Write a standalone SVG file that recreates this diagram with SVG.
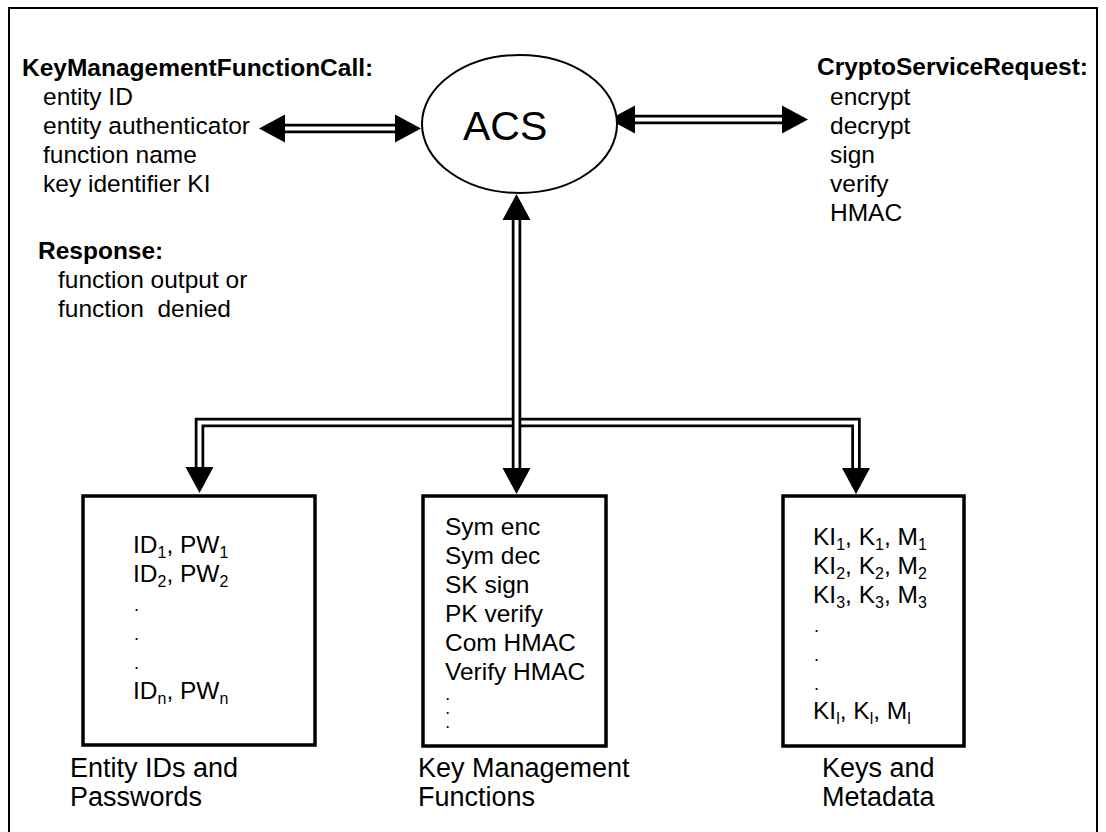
<svg xmlns="http://www.w3.org/2000/svg" width="1106" height="832" viewBox="0 0 1106 832">
  <style>
    .t { font-family: "Liberation Sans", Arial, Helvetica, sans-serif; font-size: 24.5px; fill: #000; }
    .b { font-weight: bold; }
    .lbl { font-size: 27px; }
    .sub { font-size: 16px; }
    .dot { font-size: 18px; }
    .mini { font-size: 12px; font-weight: bold; }
    .box { fill: #fff; stroke: #000; stroke-width: 3.5; }
    .rail { fill: none; stroke: #000; stroke-width: 9.5; stroke-linejoin: miter; }
    .gap { fill: none; stroke: #fff; stroke-width: 4; stroke-linejoin: miter; }
  </style>
  <defs>
    <marker id="head" markerUnits="userSpaceOnUse" viewBox="0 -15 30 30" refX="0" refY="0" markerWidth="30" markerHeight="30" orient="auto-start-reverse">
      <path d="M0,-14 L26,0 L0,14 Z" fill="#000"/>
    </marker>
  </defs>

  <!-- page frame -->
  <rect x="9" y="8" width="1088" height="840" fill="#fff" stroke="#000" stroke-width="2"/>

  <!-- double-rail connectors -->
  <g id="connectors">
    <!-- function call <-> ACS -->
    <path class="rail" d="M285,128.5 H395" marker-start="url(#head)" marker-end="url(#head)"/>
    <path class="gap" d="M285,128.5 H395"/>
    <!-- ACS <-> crypto service -->
    <path class="rail" d="M635,119.5 H782" marker-start="url(#head)" marker-end="url(#head)"/>
    <path class="gap" d="M635,119.5 H782"/>
    <!-- branch to ID store and key store -->
    <path class="rail" d="M199.5,467 V422.5 H856 V468" marker-start="url(#head)" marker-end="url(#head)"/>
    <path class="gap" d="M199.5,467 V422.5 H856 V468"/>
    <!-- ACS <-> key management functions -->
    <path class="rail" d="M516.5,220 V468" marker-start="url(#head)" marker-end="url(#head)"/>
    <path class="gap" d="M516.5,220 V468"/>
  </g>

  <g id="acs">
    <ellipse cx="519.5" cy="124" rx="97.5" ry="69" fill="#fff" stroke="#000" stroke-width="2"/>
    <text class="t" x="463" y="140" style="font-size:41px">ACS</text>
  </g>

  <g id="function-call">
    <text class="t b" x="22" y="76">KeyManagementFunctionCall:</text>
    <text class="t" x="43" y="105">entity ID</text>
    <text class="t" x="43" y="134">entity authenticator</text>
    <text class="t" x="43" y="163">function name</text>
    <text class="t" x="43" y="192">key identifier KI</text>
    <text class="t b" x="38" y="259">Response:</text>
    <text class="t" x="58" y="288">function output or</text>
    <text class="t" x="58" y="317" style="white-space:pre">function  denied</text>
  </g>

  <g id="crypto-request">
    <text class="t b" x="817" y="75">CryptoServiceRequest:</text>
    <text class="t" x="830" y="105">encrypt</text>
    <text class="t" x="830" y="134">decrypt</text>
    <text class="t" x="830" y="163">sign</text>
    <text class="t" x="830" y="192">verify</text>
    <text class="t" x="830" y="221">HMAC</text>
  </g>

  <g id="id-store">
    <rect class="box" x="83" y="496" width="232" height="249"/>
    <text class="t" x="133" y="553">ID<tspan class="sub" dy="5">1</tspan><tspan dy="-5">, PW</tspan><tspan class="sub" dy="5">1</tspan></text>
    <text class="t" x="133" y="582">ID<tspan class="sub" dy="5">2</tspan><tspan dy="-5">, PW</tspan><tspan class="sub" dy="5">2</tspan></text>
    <text class="t dot" x="134" y="611">.</text>
    <text class="t dot" x="134" y="640">.</text>
    <text class="t dot" x="134" y="669">.</text>
    <text class="t" x="133" y="699">ID<tspan class="sub" dy="5">n</tspan><tspan dy="-5">, PW</tspan><tspan class="sub" dy="5">n</tspan></text>
    <text class="t lbl" x="70" y="777">Entity IDs and</text>
    <text class="t lbl" x="70" y="806">Passwords</text>
  </g>

  <g id="functions">
    <rect class="box" x="423" y="496" width="183" height="250"/>
    <text class="t" x="445" y="535">Sym enc</text>
    <text class="t" x="445" y="564">Sym dec</text>
    <text class="t" x="445" y="593">SK sign</text>
    <text class="t" x="445" y="622">PK verify</text>
    <text class="t" x="445" y="651">Com HMAC</text>
    <text class="t" x="445" y="680">Verify HMAC</text>
    <!-- closely stacked ellipsis -->
    <text class="t mini" x="446" y="700">.</text>
    <text class="t mini" x="446" y="714">.</text>
    <text class="t mini" x="446" y="728">.</text>
    <text class="t lbl" x="418" y="777">Key Management</text>
    <text class="t lbl" x="418" y="806">Functions</text>
  </g>

  <g id="key-store">
    <rect class="box" x="783" y="496" width="181" height="250"/>
    <text class="t" x="813" y="545">KI<tspan class="sub" dy="5">1</tspan><tspan dy="-5">, K</tspan><tspan class="sub" dy="5">1</tspan><tspan dy="-5">, M</tspan><tspan class="sub" dy="5">1</tspan></text>
    <text class="t" x="813" y="574">KI<tspan class="sub" dy="5">2</tspan><tspan dy="-5">, K</tspan><tspan class="sub" dy="5">2</tspan><tspan dy="-5">, M</tspan><tspan class="sub" dy="5">2</tspan></text>
    <text class="t" x="813" y="603">KI<tspan class="sub" dy="5">3</tspan><tspan dy="-5">, K</tspan><tspan class="sub" dy="5">3</tspan><tspan dy="-5">, M</tspan><tspan class="sub" dy="5">3</tspan></text>
    <text class="t dot" x="814" y="632">.</text>
    <text class="t dot" x="814" y="661">.</text>
    <text class="t dot" x="814" y="690">.</text>
    <text class="t" x="813" y="719">KI<tspan class="sub" dy="5">l</tspan><tspan dy="-5">, K</tspan><tspan class="sub" dy="5">l</tspan><tspan dy="-5">, M</tspan><tspan class="sub" dy="5">l</tspan></text>
    <text class="t lbl" x="822" y="777">Keys and</text>
    <text class="t lbl" x="822" y="806">Metadata</text>
  </g>
</svg>
